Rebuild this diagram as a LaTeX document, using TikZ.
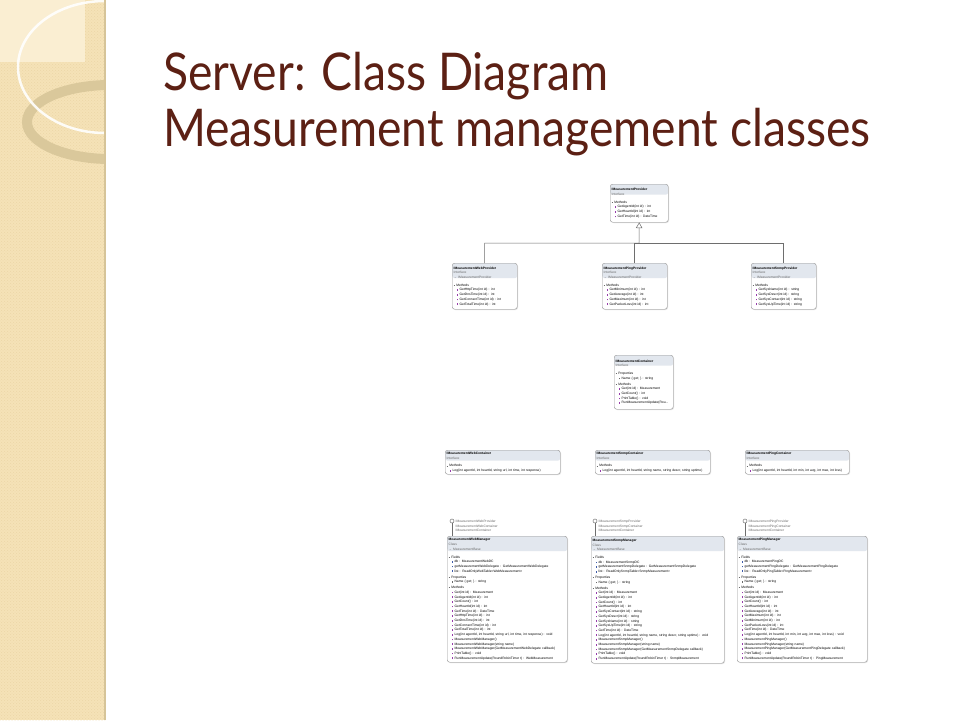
\documentclass[tikz,border=0pt]{standalone}
\usepackage{fontspec}
\usepackage{amsmath,amssymb}
\usetikzlibrary{arrows}
\usetikzlibrary{shadows}
\usetikzlibrary{patterns}
\usetikzlibrary{calc}

\newfontfamily\titlefont{Lato}
\newfontfamily\umlfont{Liberation Sans}

\definecolor{titlered}{RGB}{92,32,20}
\definecolor{bandtan}{RGB}{245,226,183}
\definecolor{bandlight}{RGB}{250,238,210}
\definecolor{banddots}{RGB}{236,214,167}
\definecolor{bandedge}{RGB}{214,196,152}
\definecolor{ringtan}{RGB}{218,200,155}
\definecolor{boxgray}{RGB}{150,150,150}
\definecolor{hdrfill}{RGB}{226,231,238}
\definecolor{kindgray}{RGB}{105,105,105}
\definecolor{mpurple}{RGB}{150,60,170}
\definecolor{fblue}{RGB}{60,90,170}
\definecolor{linegray}{RGB}{110,110,110}

\newcommand{\usect}[1]{\textcolor{kindgray}{\rule[0.9pt]{1.6pt}{0.35pt}}\hspace{1pt}#1}
\newcommand{\umeth}{\hspace*{3pt}\textcolor{mpurple}{\rule{1.7pt}{1.7pt}}\hspace{1.2pt}}
\newcommand{\ufield}{\hspace*{3pt}\textcolor{fblue}{\rule{1.7pt}{1.7pt}}\hspace{1.2pt}}
\newcommand{\uprop}{\hspace*{3pt}\textcolor{kindgray}{\rule{1.7pt}{1.7pt}}\hspace{1.2pt}}
\newcommand{\ukind}[1]{\textcolor{kindgray}{#1}}

\begin{document}
\begin{tikzpicture}[x=1pt,y=-1pt,
	uml/.style={draw=boxgray, line width=0.4pt, rounded corners=2.5pt, fill=white,
		drop shadow={shadow xshift=0.8pt, shadow yshift=-0.8pt, opacity=0.25},
		anchor=north west, align=left, inner sep=1.5pt, text width=#1,
		font=\umlfont\fontsize{3.3}{4.7}\selectfont},
	hdr/.style={path picture={\fill[hdrfill] (path picture bounding box.north west) rectangle ([yshift=-#1]path picture bounding box.north east);}},
	conn/.style={draw=linegray, line width=0.5pt},
	inh/.style={conn, -open triangle 60},
	lolli/.style={circle, draw=linegray, fill=white, line width=0.5pt, minimum size=4pt, inner sep=0pt},
	iface/.style={anchor=west, align=left, inner sep=0pt, text=kindgray, font=\umlfont\fontsize{3.3}{4.7}\selectfont},
	headline/.style={anchor=base west, inner sep=0pt, xscale=0.89, text=titlered, font=\titlefont\fontsize{52}{52}\selectfont}]
\useasboundingbox (0,0) rectangle (960,720);
\fill[white] (0,0) rectangle (960,720);
% left band
\fill[bandtan] (0,0) rectangle (105,720);
\fill[pattern=crosshatch dots, pattern color=banddots] (0,0) rectangle (105,720);
\fill[bandlight] (0,0) rectangle (85,62);
\begin{scope}
	\clip (0,0) rectangle (105,720);
	\draw[ringtan, line width=10pt] (110,122) ellipse [x radius=83, y radius=37];
	\draw[white, line width=2.5pt, opacity=0.9] (105,67) ellipse [x radius=87, y radius=66];
\end{scope}
\draw[bandedge, line width=1.5pt] (105,0) -- (105,720);
% title
\node[headline] (title1) at (163,90) {Server: Class Diagram};
\node[headline] (title2) at (163,146) {Measurement management classes};
% interfaces
\node[uml=55pt, hdr=10.5pt, minimum height=38pt] (prov) at (610,184) {\textbf{IMeasurementProvider}\\ \ukind{Interface}\\[3pt]
	\usect{Methods}\\ \umeth GetAgentId(int id) : int\\ \umeth GetHeartId(int id) : int\\ \umeth GetTime(int id) : DateTime};
\node[uml=62pt, hdr=15pt, minimum height=46pt] (webp) at (452,263) {\textbf{IMeasurementWebProvider}\\ \ukind{Interface}\\ \ukind{→ IMeasurementProvider}\\[3pt]
	\usect{Methods}\\ \umeth GetHttpTime(int id) : int\\ \umeth GetDnsTime(int id) : int\\ \umeth GetConnectTime(int id) : int\\ \umeth GetTotalTime(int id) : int};
\node[uml=62pt, hdr=15pt, minimum height=46pt] (pingp) at (602,263) {\textbf{IMeasurementPingProvider}\\ \ukind{Interface}\\ \ukind{→ IMeasurementProvider}\\[3pt]
	\usect{Methods}\\ \umeth GetMinimum(int id) : int\\ \umeth GetAverage(int id) : int\\ \umeth GetMaximum(int id) : int\\ \umeth GetPacketLoss(int id) : int};
\node[uml=62pt, hdr=15pt, minimum height=46pt] (snmpp) at (751,263) {\textbf{IMeasurementSnmpProvider}\\ \ukind{Interface}\\ \ukind{→ IMeasurementProvider}\\[3pt]
	\usect{Methods}\\ \umeth GetSysName(int id) : string\\ \umeth GetSysDescr(int id) : string\\ \umeth GetSysContact(int id) : string\\ \umeth GetSysUpTime(int id) : string};
\coordinate (bus) at (639,243);
\draw[inh] (webp.north) |- (bus) -- (prov.south);
\draw[conn] (pingp.north) |- (bus);
\draw[conn] (snmpp.north) |- (bus);
\node[uml=56pt, hdr=10.5pt, minimum height=54pt] (cont) at (614,355) {\textbf{IMeasurementContainer}\\ \ukind{Interface}\\[3pt]
	\usect{Properties}\\ \uprop Name \{ get; \} : string\\[1.2pt]
	\usect{Methods}\\ \umeth Get(int id) : Measurement\\ \umeth GetCount() : int\\ \umeth PrintTable() : void\\ \umeth RunMeasurementUpdate(Rou...};
\node[uml=112pt, hdr=10.5pt, minimum height=24pt] (webc) at (445,450) {\textbf{IMeasurementWebContainer}\\ \ukind{Interface}\\[3pt]
	\usect{Methods}\\ \umeth Log(int agentId, int heartId, string url, int time, int response)};
\node[uml=112pt, hdr=10.5pt, minimum height=24pt] (snmpc) at (595,450) {\textbf{IMeasurementSnmpContainer}\\ \ukind{Interface}\\[3pt]
	\usect{Methods}\\ \umeth Log(int agentId, int heartId, string name, string descr, string uptime)};
\node[uml=101pt, hdr=10.5pt, minimum height=24pt] (pingc) at (745,450) {\textbf{IMeasurementPingContainer}\\ \ukind{Interface}\\[3pt]
	\usect{Methods}\\ \umeth Log(int agentId, int heartId, int min, int avg, int max, int loss)};
% managers
\node[uml=117pt, hdr=15pt, minimum height=126pt] (webm) at (447,536) {\textbf{MeasurementWebManager}\\ \ukind{Class}\\ \ukind{→ MeasurementBase}\\[3pt]
	\usect{Fields}\\ \ufield db : MeasurementWebDC\\ \ufield getMeasurementWebDelegate : GetMeasurementWebDelegate\\ \ufield list : ReadOnlyWebTable<WebMeasurement>\\[1.2pt]
	\usect{Properties}\\ \uprop Name \{ get; \} : string\\[1.2pt]
	\usect{Methods}\\ \umeth Get(int id) : Measurement\\ \umeth GetAgentId(int id) : int\\ \umeth GetCount() : int\\ \umeth GetHeartId(int id) : int\\
	\umeth GetTime(int id) : DateTime\\ \umeth GetHttpTime(int id) : int\\ \umeth GetDnsTime(int id) : int\\ \umeth GetConnectTime(int id) : int\\
	\umeth GetTotalTime(int id) : int\\ \umeth Log(int agentId, int heartId, string url, int time, int response) : void\\
	\umeth MeasurementWebManager()\\ \umeth MeasurementWebManager(string name)\\ \umeth MeasurementWebManager(GetMeasurementWebDelegate callback)\\
	\umeth PrintTable() : void\\ \umeth RunMeasurementUpdate(RoundRobinTimer t) : WebMeasurement};
\node[uml=130pt, hdr=15pt, minimum height=127pt] (snmpm) at (591,536) {\textbf{MeasurementSnmpManager}\\ \ukind{Class}\\ \ukind{→ MeasurementBase}\\[3pt]
	\usect{Fields}\\ \ufield db : MeasurementSnmpDC\\ \ufield getMeasurementSnmpDelegate : GetMeasurementSnmpDelegate\\ \ufield list : ReadOnlySnmpTable<SnmpMeasurement>\\[1.2pt]
	\usect{Properties}\\ \uprop Name \{ get; \} : string\\[1.2pt]
	\usect{Methods}\\ \umeth Get(int id) : Measurement\\ \umeth GetAgentId(int id) : int\\ \umeth GetCount() : int\\ \umeth GetHeartId(int id) : int\\
	\umeth GetSysContact(int id) : string\\ \umeth GetSysDescr(int id) : string\\ \umeth GetSysName(int id) : string\\ \umeth GetSysUpTime(int id) : string\\
	\umeth GetTime(int id) : DateTime\\ \umeth Log(int agentId, int heartId, string name, string descr, string uptime) : void\\
	\umeth MeasurementSnmpManager()\\ \umeth MeasurementSnmpManager(string name)\\ \umeth MeasurementSnmpManager(GetMeasurementSnmpDelegate callback)\\
	\umeth PrintTable() : void\\ \umeth RunMeasurementUpdate(RoundRobinTimer t) : SnmpMeasurement};
\node[uml=127pt, hdr=15pt, minimum height=126pt] (pingm) at (737,536) {\textbf{MeasurementPingManager}\\ \ukind{Class}\\ \ukind{→ MeasurementBase}\\[3pt]
	\usect{Fields}\\ \ufield db : MeasurementPingDC\\ \ufield getMeasurementPingDelegate : GetMeasurementPingDelegate\\ \ufield list : ReadOnlyPingTable<PingMeasurement>\\[1.2pt]
	\usect{Properties}\\ \uprop Name \{ get; \} : string\\[1.2pt]
	\usect{Methods}\\ \umeth Get(int id) : Measurement\\ \umeth GetAgentId(int id) : int\\ \umeth GetCount() : int\\ \umeth GetHeartId(int id) : int\\
	\umeth GetAverage(int id) : int\\ \umeth GetMaximum(int id) : int\\ \umeth GetMinimum(int id) : int\\ \umeth GetPacketLoss(int id) : int\\
	\umeth GetTime(int id) : DateTime\\ \umeth Log(int agentId, int heartId, int min, int avg, int max, int loss) : void\\
	\umeth MeasurementPingManager()\\ \umeth MeasurementPingManager(string name)\\ \umeth MeasurementPingManager(GetMeasurementPingDelegate callback)\\
	\umeth PrintTable() : void\\ \umeth RunMeasurementUpdate(RoundRobinTimer t) : PingMeasurement};
% lollipops
\node[lolli] (webmi) at (452,521) {};
\node[iface] (webml) at (455.5,526) {IMeasurementWebProvider\\IMeasurementWebContainer\\IMeasurementContainer};
\draw[conn] (webmi) -- (webmi |- webm.north);
\node[lolli] (snmpmi) at (595,521) {};
\node[iface] (snmpml) at (598.5,526) {IMeasurementSnmpProvider\\IMeasurementSnmpContainer\\IMeasurementContainer};
\draw[conn] (snmpmi) -- (snmpmi |- snmpm.north);
\node[lolli] (pingmi) at (745,521) {};
\node[iface] (pingml) at (748.5,526) {IMeasurementPingProvider\\IMeasurementPingContainer\\IMeasurementContainer};
\draw[conn] (pingmi) -- (pingmi |- pingm.north);
\end{tikzpicture}
\end{document}
